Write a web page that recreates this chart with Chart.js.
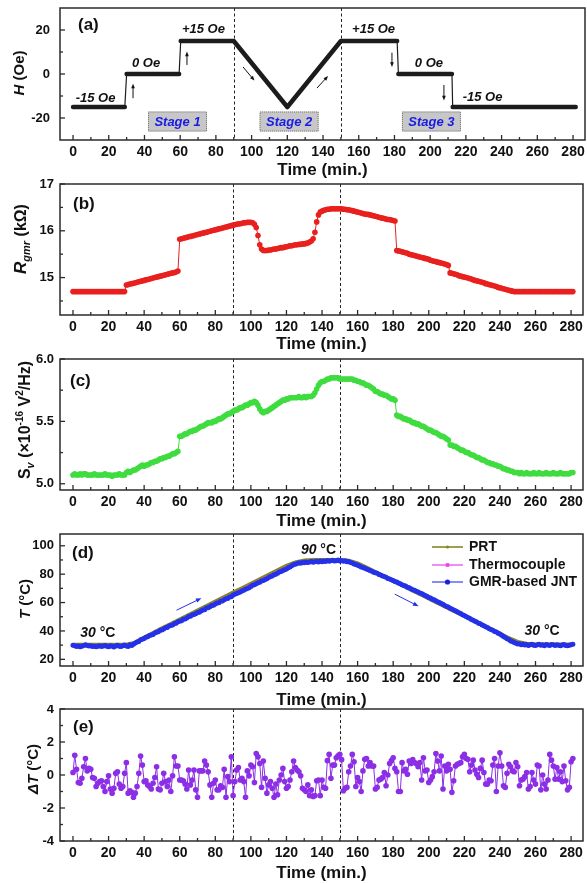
<!DOCTYPE html>
<html>
<head>
<meta charset="utf-8">
<script src="https://cdn.jsdelivr.net/npm/chart.js@4.4.1/dist/chart.umd.min.js"></script>
<style>
html, body { margin: 0; padding: 0; background: #fff; }
#wrap { position: relative; width: 587px; height: 883px; }
canvas { position: absolute; left: 0; }
</style>
</head>
<body>
<div id="wrap">
  <canvas id="cA" width="587" height="190" style="top:0px"></canvas>
  <canvas id="cB" width="587" height="188" style="top:176px"></canvas>
  <canvas id="cC" width="587" height="190" style="top:350px"></canvas>
  <canvas id="cD" width="587" height="193" style="top:526px"></canvas>
  <canvas id="cE" width="587" height="178" style="top:705px"></canvas>
</div>
<script>
// one reading per minute, 0..281 min
const minutes = Array.from({length: 282}, (_, i) => i);
// PRT and thermocouple read every 5 min
const refMinutes = Array.from({length: 57}, (_, i) => i * 5);

const timeTicks = [0, 20, 40, 60, 80, 100, 120, 140, 160, 180, 200, 220, 240, 260, 280];
const stageEdges = [90, 150];

// (a) applied field
const fieldTime = [0, 29, 30, 59.4, 60.3, 90, 120, 150, 181.5, 182.2, 212.2, 212.6, 281.5];
const fieldOe = [-15, -15, 0, 0, 15, 15, -15, 15, 15, 0, 0, -15, -15];
const fieldTicks = [-20, 0, 20];

// (b) GMR resistance, kOhm
const rGmr = [
  14.70,14.70,14.70,14.70,14.70,14.70,14.70,14.70,14.70,14.70,
  14.70,14.70,14.70,14.70,14.70,14.70,14.70,14.70,14.70,14.70,
  14.70,14.70,14.70,14.70,14.70,14.70,14.70,14.70,14.70,14.70,
  14.84,14.85,14.86,14.87,14.88,14.89,14.90,14.91,14.92,14.93,
  14.94,14.95,14.96,14.97,14.98,14.99,15.00,15.01,15.02,15.03,
  15.04,15.05,15.06,15.07,15.08,15.09,15.10,15.11,15.12,15.14,
  15.82,15.83,15.84,15.85,15.86,15.87,15.88,15.89,15.90,15.91,
  15.92,15.93,15.94,15.95,15.96,15.97,15.98,15.99,16.00,16.01,
  16.02,16.03,16.04,16.05,16.06,16.07,16.08,16.09,16.10,16.11,
  16.12,16.13,16.14,16.15,16.15,16.16,16.17,16.17,16.18,16.18,
  16.18,16.17,16.14,16.07,15.90,15.70,15.61,15.58,15.58,15.58,
  15.59,15.59,15.60,15.61,15.61,15.62,15.63,15.64,15.64,15.65,
  15.66,15.67,15.68,15.68,15.69,15.70,15.70,15.71,15.71,15.72,
  15.72,15.73,15.74,15.76,15.78,15.83,15.97,16.19,16.34,16.40,
  16.42,16.44,16.45,16.46,16.46,16.47,16.47,16.47,16.47,16.47,
  16.47,16.47,16.46,16.46,16.45,16.45,16.44,16.43,16.42,16.41,
  16.40,16.39,16.38,16.37,16.36,16.35,16.35,16.34,16.33,16.32,
  16.31,16.30,16.29,16.28,16.27,16.26,16.25,16.24,16.24,16.23,
  16.22,16.21,15.58,15.57,15.56,15.55,15.54,15.53,15.52,15.50,
  15.49,15.48,15.47,15.46,15.45,15.44,15.43,15.42,15.41,15.40,
  15.39,15.37,15.36,15.35,15.34,15.33,15.32,15.31,15.30,15.29,
  15.28,15.26,15.10,15.09,15.08,15.07,15.06,15.04,15.03,15.02,
  15.01,15.00,14.99,14.98,14.97,14.95,14.94,14.93,14.92,14.91,
  14.90,14.89,14.87,14.86,14.85,14.84,14.83,14.82,14.81,14.79,
  14.78,14.77,14.76,14.75,14.74,14.73,14.72,14.71,14.70,14.70,
  14.70,14.70,14.70,14.70,14.70,14.70,14.70,14.70,14.70,14.70,
  14.70,14.70,14.70,14.70,14.70,14.70,14.70,14.70,14.70,14.70,
  14.70,14.70,14.70,14.70,14.70,14.70,14.70,14.70,14.70,14.70,
  14.70,14.70
];
const rTicks = [15, 16, 17];

// (c) noise power spectral density, 1e-16 V^2/Hz
const sV = [
  5.07,5.08,5.07,5.07,5.08,5.07,5.08,5.08,5.07,5.07,
  5.07,5.07,5.08,5.07,5.07,5.07,5.07,5.07,5.08,5.07,
  5.07,5.07,5.06,5.07,5.07,5.07,5.08,5.07,5.07,5.07,
  5.09,5.10,5.09,5.10,5.11,5.11,5.12,5.13,5.14,5.15,
  5.14,5.15,5.15,5.16,5.17,5.17,5.18,5.18,5.19,5.20,
  5.20,5.21,5.21,5.22,5.22,5.23,5.24,5.24,5.25,5.26,
  5.38,5.38,5.39,5.40,5.40,5.41,5.42,5.42,5.43,5.43,
  5.44,5.45,5.46,5.46,5.47,5.48,5.49,5.49,5.49,5.50,
  5.50,5.51,5.52,5.52,5.53,5.54,5.55,5.56,5.56,5.57,
  5.58,5.59,5.59,5.60,5.61,5.61,5.62,5.63,5.63,5.64,
  5.65,5.65,5.66,5.65,5.63,5.60,5.58,5.57,5.58,5.58,
  5.59,5.60,5.61,5.62,5.63,5.64,5.65,5.66,5.67,5.67,
  5.68,5.68,5.69,5.69,5.69,5.69,5.69,5.70,5.69,5.69,
  5.70,5.69,5.70,5.70,5.70,5.71,5.73,5.76,5.79,5.81,
  5.82,5.82,5.83,5.84,5.84,5.85,5.85,5.85,5.85,5.85,
  5.84,5.84,5.84,5.84,5.84,5.84,5.84,5.84,5.83,5.83,
  5.82,5.82,5.81,5.81,5.80,5.79,5.79,5.78,5.77,5.76,
  5.74,5.74,5.73,5.72,5.72,5.71,5.71,5.70,5.69,5.68,
  5.68,5.67,5.55,5.54,5.54,5.53,5.52,5.52,5.51,5.51,
  5.50,5.49,5.49,5.48,5.48,5.47,5.46,5.46,5.45,5.44,
  5.43,5.43,5.42,5.41,5.41,5.40,5.39,5.38,5.38,5.37,
  5.36,5.35,5.31,5.31,5.30,5.30,5.29,5.28,5.27,5.27,
  5.26,5.25,5.25,5.24,5.23,5.23,5.22,5.21,5.21,5.20,
  5.19,5.19,5.18,5.17,5.17,5.16,5.16,5.15,5.15,5.14,
  5.14,5.13,5.12,5.12,5.11,5.11,5.10,5.10,5.09,5.09,
  5.09,5.08,5.09,5.08,5.08,5.09,5.08,5.08,5.08,5.09,
  5.08,5.08,5.09,5.08,5.08,5.08,5.09,5.08,5.08,5.08,
  5.09,5.08,5.08,5.08,5.09,5.08,5.08,5.08,5.08,5.08,
  5.09,5.09
];
const sTicks = [5.0, 5.5, 6.0];

// (d) temperatures, degC
const tPrt = [
  30.2,30.2,30.2,30.2,30.2,30.2,30.3,31.8,35.4,38.6,
  41.8,44.9,48.1,51.2,54.4,57.5,60.7,63.8,67.0,70.1,
  73.3,76.4,79.6,82.7,85.8,88.3,89.6,89.9,90.0,90.0,
  90.0,89.4,87.6,84.6,81.5,78.4,75.3,72.2,69.1,66.0,
  62.9,59.8,56.7,53.6,50.5,47.4,44.3,41.2,38.1,34.9,
  32.3,31.0,30.6,30.5,30.5,30.5,30.5
];
const tThermo = [
  29.9,29.9,29.9,29.9,29.9,29.9,30.0,31.3,34.8,38.0,
  41.2,44.3,47.5,50.6,53.8,56.9,60.1,63.2,66.4,69.5,
  72.7,75.8,79.0,82.1,85.2,87.8,89.2,89.5,89.6,89.6,
  89.6,89.0,87.2,84.3,81.2,78.1,75.0,71.9,68.8,65.7,
  62.6,59.5,56.4,53.3,50.2,47.1,44.0,40.9,37.8,34.6,
  32.0,30.8,30.4,30.3,30.3,30.3,30.3
];
const tGmr = [
  30.0,29.6,29.1,29.4,28.9,29.3,29.8,30.2,29.7,29.4,
  29.6,29.1,29.3,28.8,29.2,29.5,29.0,29.4,29.8,29.3,
  28.9,29.6,29.2,28.7,29.4,29.9,29.3,29.0,29.6,30.1,
  29.4,29.0,30.3,29.8,30.6,31.5,32.2,32.6,33.8,34.1,
  34.7,35.6,35.9,36.8,37.2,37.5,38.6,39.0,39.4,40.5,
  40.6,41.4,42.2,42.4,43.5,43.8,44.2,45.3,45.5,46.4,
  46.8,47.2,48.3,48.5,49.2,50.1,50.3,51.3,51.6,52.1,
  53.0,53.2,54.1,54.8,55.0,56.1,56.3,57.0,57.9,58.1,
  59.0,59.6,59.9,60.9,61.1,61.9,62.6,62.8,63.9,64.1,
  65.3,65.8,66.3,66.9,67.5,68.2,68.6,69.4,69.9,70.4,
  71.3,72.2,72.5,73.2,73.9,74.3,75.2,75.5,76.3,76.8,
  77.6,78.4,78.7,79.6,80.0,80.7,81.5,81.8,82.6,83.2,
  83.7,84.6,85.0,85.9,86.8,87.0,87.6,88.1,87.7,88.3,
  88.0,88.6,88.2,88.5,89.0,88.4,88.7,89.1,88.6,89.2,
  88.8,89.3,89.0,89.6,89.1,89.4,89.8,89.2,89.5,89.9,
  89.3,89.6,89.1,89.4,88.8,88.9,88.2,87.9,87.1,86.8,
  86.2,85.8,85.1,84.7,84.1,83.6,83.2,82.5,82.1,81.4,
  81.0,80.6,79.8,79.5,78.7,78.3,77.8,77.0,76.6,76.1,
  75.5,74.9,74.5,73.7,73.3,72.6,72.1,71.6,70.8,70.4,
  69.7,69.1,68.6,67.9,67.5,66.7,66.3,65.6,65.0,64.5,
  63.6,63.2,62.4,62.0,61.2,60.6,60.0,59.3,58.8,58.0,
  57.3,56.8,56.0,55.5,54.7,54.2,53.5,52.8,52.3,51.4,
  50.9,50.2,49.5,48.9,48.1,47.6,46.8,46.3,45.5,45.0,
  44.2,43.7,42.9,42.4,41.6,41.1,40.4,39.6,39.2,38.3,
  37.8,37.0,36.1,35.4,34.5,33.9,33.0,32.5,31.8,31.4,
  30.8,30.9,30.3,30.6,30.1,30.4,29.8,30.2,30.7,30.0,
  29.7,30.3,30.6,29.9,30.2,29.6,30.4,30.1,29.8,30.5,
  30.2,29.7,30.3,30.0,29.5,30.1,30.4,29.8,29.5,30.0,
  30.3,30.6
];
const tTicks = [20, 40, 60, 80, 100];

// (e) temperature difference, degC
const dT = [
  0.15,1.2,0.35,-0.45,-0.5,-0.2,0.5,1.0,0.25,0.4,
  0.35,-0.15,-0.2,-0.7,-0.5,-0.4,-0.35,-0.7,-1.0,-0.4,
  -0.05,-0.85,-1.1,-0.8,0.1,0.2,-0.55,-0.8,-0.7,0.1,
  0.75,-1.1,-0.95,-1.05,-1.35,-1.1,-0.7,0.1,1.15,0.6,
  -0.4,-0.35,-0.6,-0.7,-0.85,-0.5,-0.15,0.5,-0.85,-0.9,
  -0.5,0.1,-0.4,-0.7,-0.3,-1.0,-0.05,1.1,0.55,0.55,
  -0.3,-0.3,-0.35,-0.55,-0.85,0.3,-0.6,-0.3,0.3,-0.9,
  -1.35,0.25,0.25,0.25,0.85,0.6,0.2,-0.6,-1.35,-0.5,
  -0.3,-0.9,-0.9,-0.65,-0.75,0.35,-1.35,-0.1,-0.4,1.1,
  -1.25,-0.4,0.3,0.45,-0.3,-0.2,-0.4,-1.35,0.25,-0.05,
  0.6,0.5,-0.45,1.3,1.1,0.7,-0.75,0.85,-0.2,-1.1,
  -0.6,-0.4,-0.8,-1.35,-0.55,-1.2,-0.3,0.0,0.4,-0.4,
  -0.8,-0.7,-0.3,0.2,0.85,0.45,0.3,0.2,-0.05,-0.8,
  -0.9,-1.0,-0.6,-1.25,-0.9,-1.3,-1.25,-0.35,-0.3,-1.25,
  -0.3,-0.75,-0.8,0.87,1.25,-0.2,0.6,0.6,1.05,1.17,
  1.25,0.93,-0.95,-0.8,-0.75,0.2,0.55,1.25,0.8,-0.7,
  -0.15,-0.4,-1.0,0.25,0.95,1.0,0.55,0.75,0.55,0.55,
  -0.85,-0.75,-0.3,-0.25,-0.15,0.15,-0.65,0.0,0.7,0.87,
  1.05,0.4,0.2,-1.0,-1.0,0.75,0.25,0.35,0.05,0.85,
  0.7,0.93,0.75,0.7,0.5,0.75,-0.3,1.05,0.25,0.3,
  -0.45,-0.3,-0.1,0.2,1.3,0.85,0.25,1.15,-0.85,0.55,
  0.25,0.65,0.35,-1.05,-0.35,0.55,0.65,0.7,0.75,1.1,
  1.25,1.0,0.95,0.2,0.6,0.9,0.3,0.05,-0.15,0.4,
  0.9,0.15,-0.55,-0.55,-0.3,-0.35,0.6,1.0,-1.0,0.55,
  1.35,0.55,-0.65,-0.75,0.1,0.65,0.5,0.25,0.2,0.75,
  0.5,-0.65,-0.3,-0.25,-0.1,0.15,-0.85,-0.7,0.15,-0.3,
  -0.55,0.6,0.55,-0.9,0.0,-0.55,-0.85,-0.3,1.25,0.9,
  0.55,-0.25,0.45,-0.25,0.2,-0.4,0.55,-0.35,-0.9,-0.75,
  0.8,1.0
];
const dTicks = [-4, -2, 0, 2, 4];

const FONT = "'Liberation Sans', Arial, sans-serif";
Chart.defaults.font.family = FONT;
Chart.defaults.color = '#111';

function pts(xs, ys) {
  return xs.map((x, i) => ({x: x, y: ys[i]}));
}

function minorOf(ticks, min, max) {
  const step = ticks[1] - ticks[0];
  const out = [];
  for (let i = -1; i < ticks.length; i++) {
    const v = i < 0 ? ticks[0] - step / 2 : ticks[i] + step / 2;
    if (v > min + 1e-9 && v < max - 1e-9) out.push(v);
  }
  return out;
}

// mixed-style text, centred on (x, y); rotated for y titles
function richText(ctx, x, y, parts, base, rotate, align) {
  ctx.save();
  ctx.translate(x, y);
  if (rotate) ctx.rotate(-Math.PI / 2);
  ctx.textBaseline = 'alphabetic';
  ctx.textAlign = 'left';
  let w = 0;
  parts.forEach(p => { ctx.font = p.font; p.w = ctx.measureText(p.text).width; w += p.w; });
  let cx = align === 'left' ? 0 : -w / 2;
  parts.forEach(p => {
    ctx.font = p.font;
    ctx.fillStyle = p.color || '#111';
    ctx.fillText(p.text, cx, base + (p.dy || 0));
    cx += p.w;
  });
  ctx.restore();
}

function arrow(ctx, x1, y1, x2, y2, color, head) {
  const a = Math.atan2(y2 - y1, x2 - x1);
  const h = head || 5;
  ctx.save();
  ctx.strokeStyle = color;
  ctx.fillStyle = color;
  ctx.lineWidth = 1;
  ctx.setLineDash([]);
  ctx.beginPath();
  ctx.moveTo(x1, y1);
  ctx.lineTo(x2 - Math.cos(a) * h * 0.7, y2 - Math.sin(a) * h * 0.7);
  ctx.stroke();
  ctx.beginPath();
  ctx.moveTo(x2, y2);
  ctx.lineTo(x2 - h * Math.cos(a - 0.38), y2 - h * Math.sin(a - 0.38));
  ctx.lineTo(x2 - h * Math.cos(a + 0.38), y2 - h * Math.sin(a + 0.38));
  ctx.closePath();
  ctx.fill();
  ctx.restore();
}

const deco = {
  id: 'deco',
  beforeDatasetsDraw(chart, args, o) {
    const {ctx, chartArea: a, scales: {x}} = chart;
    ctx.save();
    ctx.strokeStyle = '#222';
    ctx.lineWidth = 1;
    ctx.setLineDash([3, 2.5]);
    stageEdges.forEach(v => {
      const px = Math.round(x.getPixelForValue(v)) + 0.5;
      ctx.beginPath();
      ctx.moveTo(px, a.top);
      ctx.lineTo(px, a.bottom);
      ctx.stroke();
    });
    ctx.restore();
  },
  afterDraw(chart, args, o) {
    const {ctx, chartArea: a, scales: {x, y}} = chart;
    ctx.save();
    ctx.strokeStyle = '#2b2b2b';
    ctx.lineWidth = 1.5;
    ctx.strokeRect(a.left, a.top, a.right - a.left, a.bottom - a.top);
    ctx.lineWidth = 1.3;
    const tick = (scale, vals, len) => vals.forEach(v => {
      const p = scale.getPixelForValue(v);
      ctx.beginPath();
      if (scale.isHorizontal()) { ctx.moveTo(p, a.bottom); ctx.lineTo(p, a.bottom - len); }
      else { ctx.moveTo(a.left, p); ctx.lineTo(a.left + len, p); }
      ctx.stroke();
    });
    tick(x, timeTicks, 5);
    tick(x, minorOf(timeTicks, x.min, x.max), 3);
    tick(y, o.yTicks, 5);
    tick(y, minorOf(o.yTicks, y.min, y.max), 3);

    // panel letter
    ctx.font = 'bold 17px ' + FONT;
    ctx.fillStyle = '#111';
    ctx.textAlign = 'left';
    ctx.textBaseline = 'middle';
    ctx.fillText(o.letter, a.left + o.letterAt[0], a.top + o.letterAt[1]);

    // y title
    richText(ctx, o.yTitle.x, o.yTitle.y - o.top, o.yTitle.parts, o.yTitle.base, true);

    if (o.extra) o.extra(ctx, x, y, a, o.top);
    ctx.restore();
  }
};
Chart.register(deco);

function panel(id, cfg) {
  return new Chart(document.getElementById(id), {
    type: 'line',
    data: {datasets: cfg.datasets},
    options: {
      responsive: false,
      animation: false,
      events: [],
      layout: {padding: {top: cfg.padTop, right: 2, left: 0, bottom: cfg.padBottom || 0}},
      plugins: {
        legend: {display: false},
        tooltip: {enabled: false},
        deco: cfg.deco
      },
      scales: {
        x: {
          type: 'linear', min: -7.3, max: 286.7,
          afterBuildTicks: s => { s.ticks = timeTicks.map(v => ({value: v})); },
          afterFit: s => { s.height = cfg.xHeight; s.paddingLeft = 0; s.paddingRight = 0; },
          grid: {display: false, drawTicks: false, tickLength: 0},
          border: {display: false},
          ticks: {font: {size: 14, weight: 'bold'}, padding: 4, color: '#111', maxRotation: 0, autoSkip: false},
          title: {
            display: true, text: 'Time (min.)', color: '#111',
            font: {size: 17, weight: 'bold', lineHeight: 0.5},
            padding: {top: 0, bottom: cfg.titlePad}
          }
        },
        y: {
          type: 'linear', min: cfg.yMin, max: cfg.yMax,
          afterBuildTicks: s => { s.ticks = cfg.deco.yTicks.map(v => ({value: v})); },
          afterFit: s => { s.width = 60; s.paddingTop = 0; s.paddingBottom = 0; },
          grid: {display: false, drawTicks: false, tickLength: 0},
          border: {display: false},
          ticks: {font: {size: 13, weight: 'bold'}, padding: cfg.yPad, color: '#111', callback: cfg.yFmt || (v => v)}
        }
      }
    }
  });
}

const B15 = 'bold 15px ' + FONT, BI15 = 'italic bold 15px ' + FONT;

// ---- (a)
panel('cA', {
  padTop: 8, padBottom: 14, xHeight: 36, titlePad: 1.75, yPad: 10, yMin: -30, yMax: 30,
  datasets: [{
    data: pts(fieldTime, fieldOe),
    borderColor: '#1c1c1c', borderWidth: 4.5, pointRadius: 0,
    borderCapStyle: 'round', borderJoinStyle: 'round',
    segment: {borderWidth: c => (c.p1.parsed.x - c.p0.parsed.x < 2 ? 1.2 : 4.5)}
  }],
  deco: {
    top: 0, letter: '(a)', letterAt: [18, 17], yTicks: fieldTicks,
    yTitle: {x: 19, y: 73, base: 5.4, parts: [{text: 'H', font: BI15}, {text: ' (Oe)', font: B15}]},
    extra(ctx, x, y) {
      const X = v => x.getPixelForValue(v), Y = v => y.getPixelForValue(v);
      ctx.font = 'italic bold 13px ' + FONT;
      ctx.fillStyle = '#111';
      ctx.textAlign = 'center';
      ctx.textBaseline = 'middle';
      [['-15 Oe', 12.6, -11], ['0 Oe', 40.9, 5], ['+15 Oe', 73, 20.2],
       ['+15 Oe', 168.3, 20.2], ['0 Oe', 199.3, 5], ['-15 Oe', 229.3, -10.6]]
        .forEach(([t, tx, ty]) => ctx.fillText(t, X(tx), Y(ty)));
      [['Stage 1', 58.5], ['Stage 2', 121], ['Stage 3', 200.7]].forEach(([t, tx]) => {
        const cx = X(tx), cy = Y(-21.6);
        ctx.fillStyle = '#c7c7c7';
        ctx.fillRect(cx - 29.5, cy - 10, 59, 20);
        ctx.strokeStyle = '#777';
        ctx.lineWidth = 1;
        ctx.setLineDash([1, 1]);
        ctx.strokeRect(cx - 29.5 + 0.5, cy - 10 + 0.5, 58, 19);
        ctx.setLineDash([]);
        ctx.fillStyle = '#1a1ae6';
        ctx.font = 'italic bold 13px ' + FONT;
        ctx.fillText(t, cx, cy + 0.5);
      });
      arrow(ctx, X(33.6), Y(-11), X(33.6), Y(-4.4), '#111', 5);
      arrow(ctx, X(63.8), Y(4.1), X(63.8), Y(10.2), '#111', 5);
      arrow(ctx, X(178.6), Y(9.7), X(178.6), Y(3.2), '#111', 5);
      arrow(ctx, X(207.7), Y(-5), X(207.7), Y(-12), '#111', 5);
      arrow(ctx, X(95.2), Y(3.2), X(101.6), Y(-3), '#111', 5);
      arrow(ctx, X(136.6), Y(-6.4), X(142.8), Y(-0.9), '#111', 5);
    }
  }
});

// ---- (b)
panel('cB', {
  padTop: 8, padBottom: 14, xHeight: 35, titlePad: 1.75, yPad: 6, yMin: 14.2, yMax: 17,
  datasets: [{
    data: pts(minutes, rGmr),
    borderColor: '#e8201e', borderWidth: 1,
    pointRadius: 2.8, pointBackgroundColor: '#e8201e', pointBorderWidth: 0
  }],
  deco: {
    top: 176, letter: '(b)', letterAt: [13, 20], yTicks: rTicks,
    yTitle: {x: 20, y: 239, base: 6.1, parts: [
      {text: 'R', font: 'italic bold 17px ' + FONT},
      {text: 'gmr', font: 'italic bold 11px ' + FONT, dy: 4},
      {text: ' (k\u03A9)', font: 'bold 16px ' + FONT}
    ]}
  }
});

// ---- (c)
panel('cC', {
  padTop: 9, padBottom: 14, xHeight: 36, titlePad: 0.75, yPad: 6, yMin: 4.95, yMax: 6.0,
  yFmt: v => v.toFixed(1),
  datasets: [{
    data: pts(minutes, sV),
    borderColor: '#3fdc3f', borderWidth: 1,
    pointRadius: 2.8, pointBackgroundColor: '#3fdc3f', pointBorderWidth: 0
  }],
  deco: {
    top: 350, letter: '(c)', letterAt: [10, 22], yTicks: sTicks,
    yTitle: {x: 24, y: 420, base: 5.7, parts: [
      {text: 'S', font: 'bold 16px ' + FONT},
      {text: 'v', font: 'italic bold 11px ' + FONT, dy: 4},
      {text: ' (\u00D710', font: 'bold 16px ' + FONT},
      {text: '-16', font: 'bold 10px ' + FONT, dy: -7},
      {text: ' V', font: 'bold 16px ' + FONT},
      {text: '2', font: 'bold 10px ' + FONT, dy: -7},
      {text: '/Hz)', font: 'bold 16px ' + FONT}
    ]}
  }
});

// ---- (d)
panel('cD', {
  padTop: 8, padBottom: 14, xHeight: 39, titlePad: 0, yPad: 6, yMin: 15.3, yMax: 108.3,
  datasets: [
    {data: pts(minutes, tGmr), borderColor: '#2531e8', borderWidth: 1,
     pointRadius: 2.5, pointBackgroundColor: '#2531e8', pointBorderWidth: 0},
    {data: pts(refMinutes, tThermo), borderColor: '#f23cf0', borderWidth: 1.5, pointRadius: 0},
    {data: pts(refMinutes, tPrt), borderColor: '#85852a', borderWidth: 4, pointRadius: 0}
  ],
  deco: {
    top: 526, letter: '(d)', letterAt: [12, 19], yTicks: tTicks,
    yTitle: {x: 25, y: 599, base: 5.4, parts: [{text: 'T', font: BI15}, {text: ' (\u00B0C)', font: B15}]},
    extra(ctx, x, y, a, top) {
      const X = v => x.getPixelForValue(v), Y = v => y.getPixelForValue(v);
      const lbl = (n, tx, ty) => richText(ctx, X(tx), Y(ty), [
        {text: n, font: 'italic bold 14px ' + FONT}, {text: ' \u00B0C', font: 'bold 14px ' + FONT}], 5, false);
      lbl('30', 14, 39);
      lbl('90', 138, 97.6);
      lbl('30', 263.7, 40.5);
      arrow(ctx, X(58.2), Y(54.6), X(72.2), Y(63.1), '#2531e8', 6);
      arrow(ctx, X(180.9), Y(65.9), X(194.3), Y(57.4), '#2531e8', 6);
      // legend
      const rows = [
        ['PRT', '#85852a', '#85852a', 'dot', 1.6],
        ['Thermocouple', '#f26cf0', '#f23cf0', 'square', 1.8],
        ['GMR-based JNT', '#6b6bf5', '#1a22d8', 'dot', 2.6]
      ];
      rows.forEach(([t, lc, mc, shape, r], i) => {
        const cy = [547, 565, 582][i] - top;
        ctx.strokeStyle = lc;
        ctx.lineWidth = 1.6;
        ctx.beginPath();
        ctx.moveTo(432, cy);
        ctx.lineTo(463, cy);
        ctx.stroke();
        ctx.fillStyle = mc;
        if (shape === 'dot') { ctx.beginPath(); ctx.arc(447.5, cy, r, 0, Math.PI * 2); ctx.fill(); }
        else ctx.fillRect(447.5 - r, cy - r, 2 * r, 2 * r);
        ctx.fillStyle = '#111';
        ctx.font = 'bold 14px ' + FONT;
        ctx.textAlign = 'left';
        ctx.textBaseline = 'middle';
        ctx.fillText(t, 469, cy + 0.5);
      });
    }
  }
});

// ---- (e)
panel('cE', {
  padTop: 4, xHeight: 42, titlePad: 5.75, yPad: 6, yMin: -4, yMax: 4,
  datasets: [{
    data: pts(minutes, dT),
    borderColor: '#8b2ee6', borderWidth: 1,
    pointRadius: 2.8, pointBackgroundColor: '#8b2ee6', pointBorderWidth: 0
  }],
  deco: {
    top: 705, letter: '(e)', letterAt: [13, 18], yTicks: dTicks,
    yTitle: {x: 33, y: 769, base: 5.4, parts: [{text: '\u0394T', font: BI15}, {text: ' (\u00B0C)', font: B15}]}
  }
});
</script>
</body>
</html>
